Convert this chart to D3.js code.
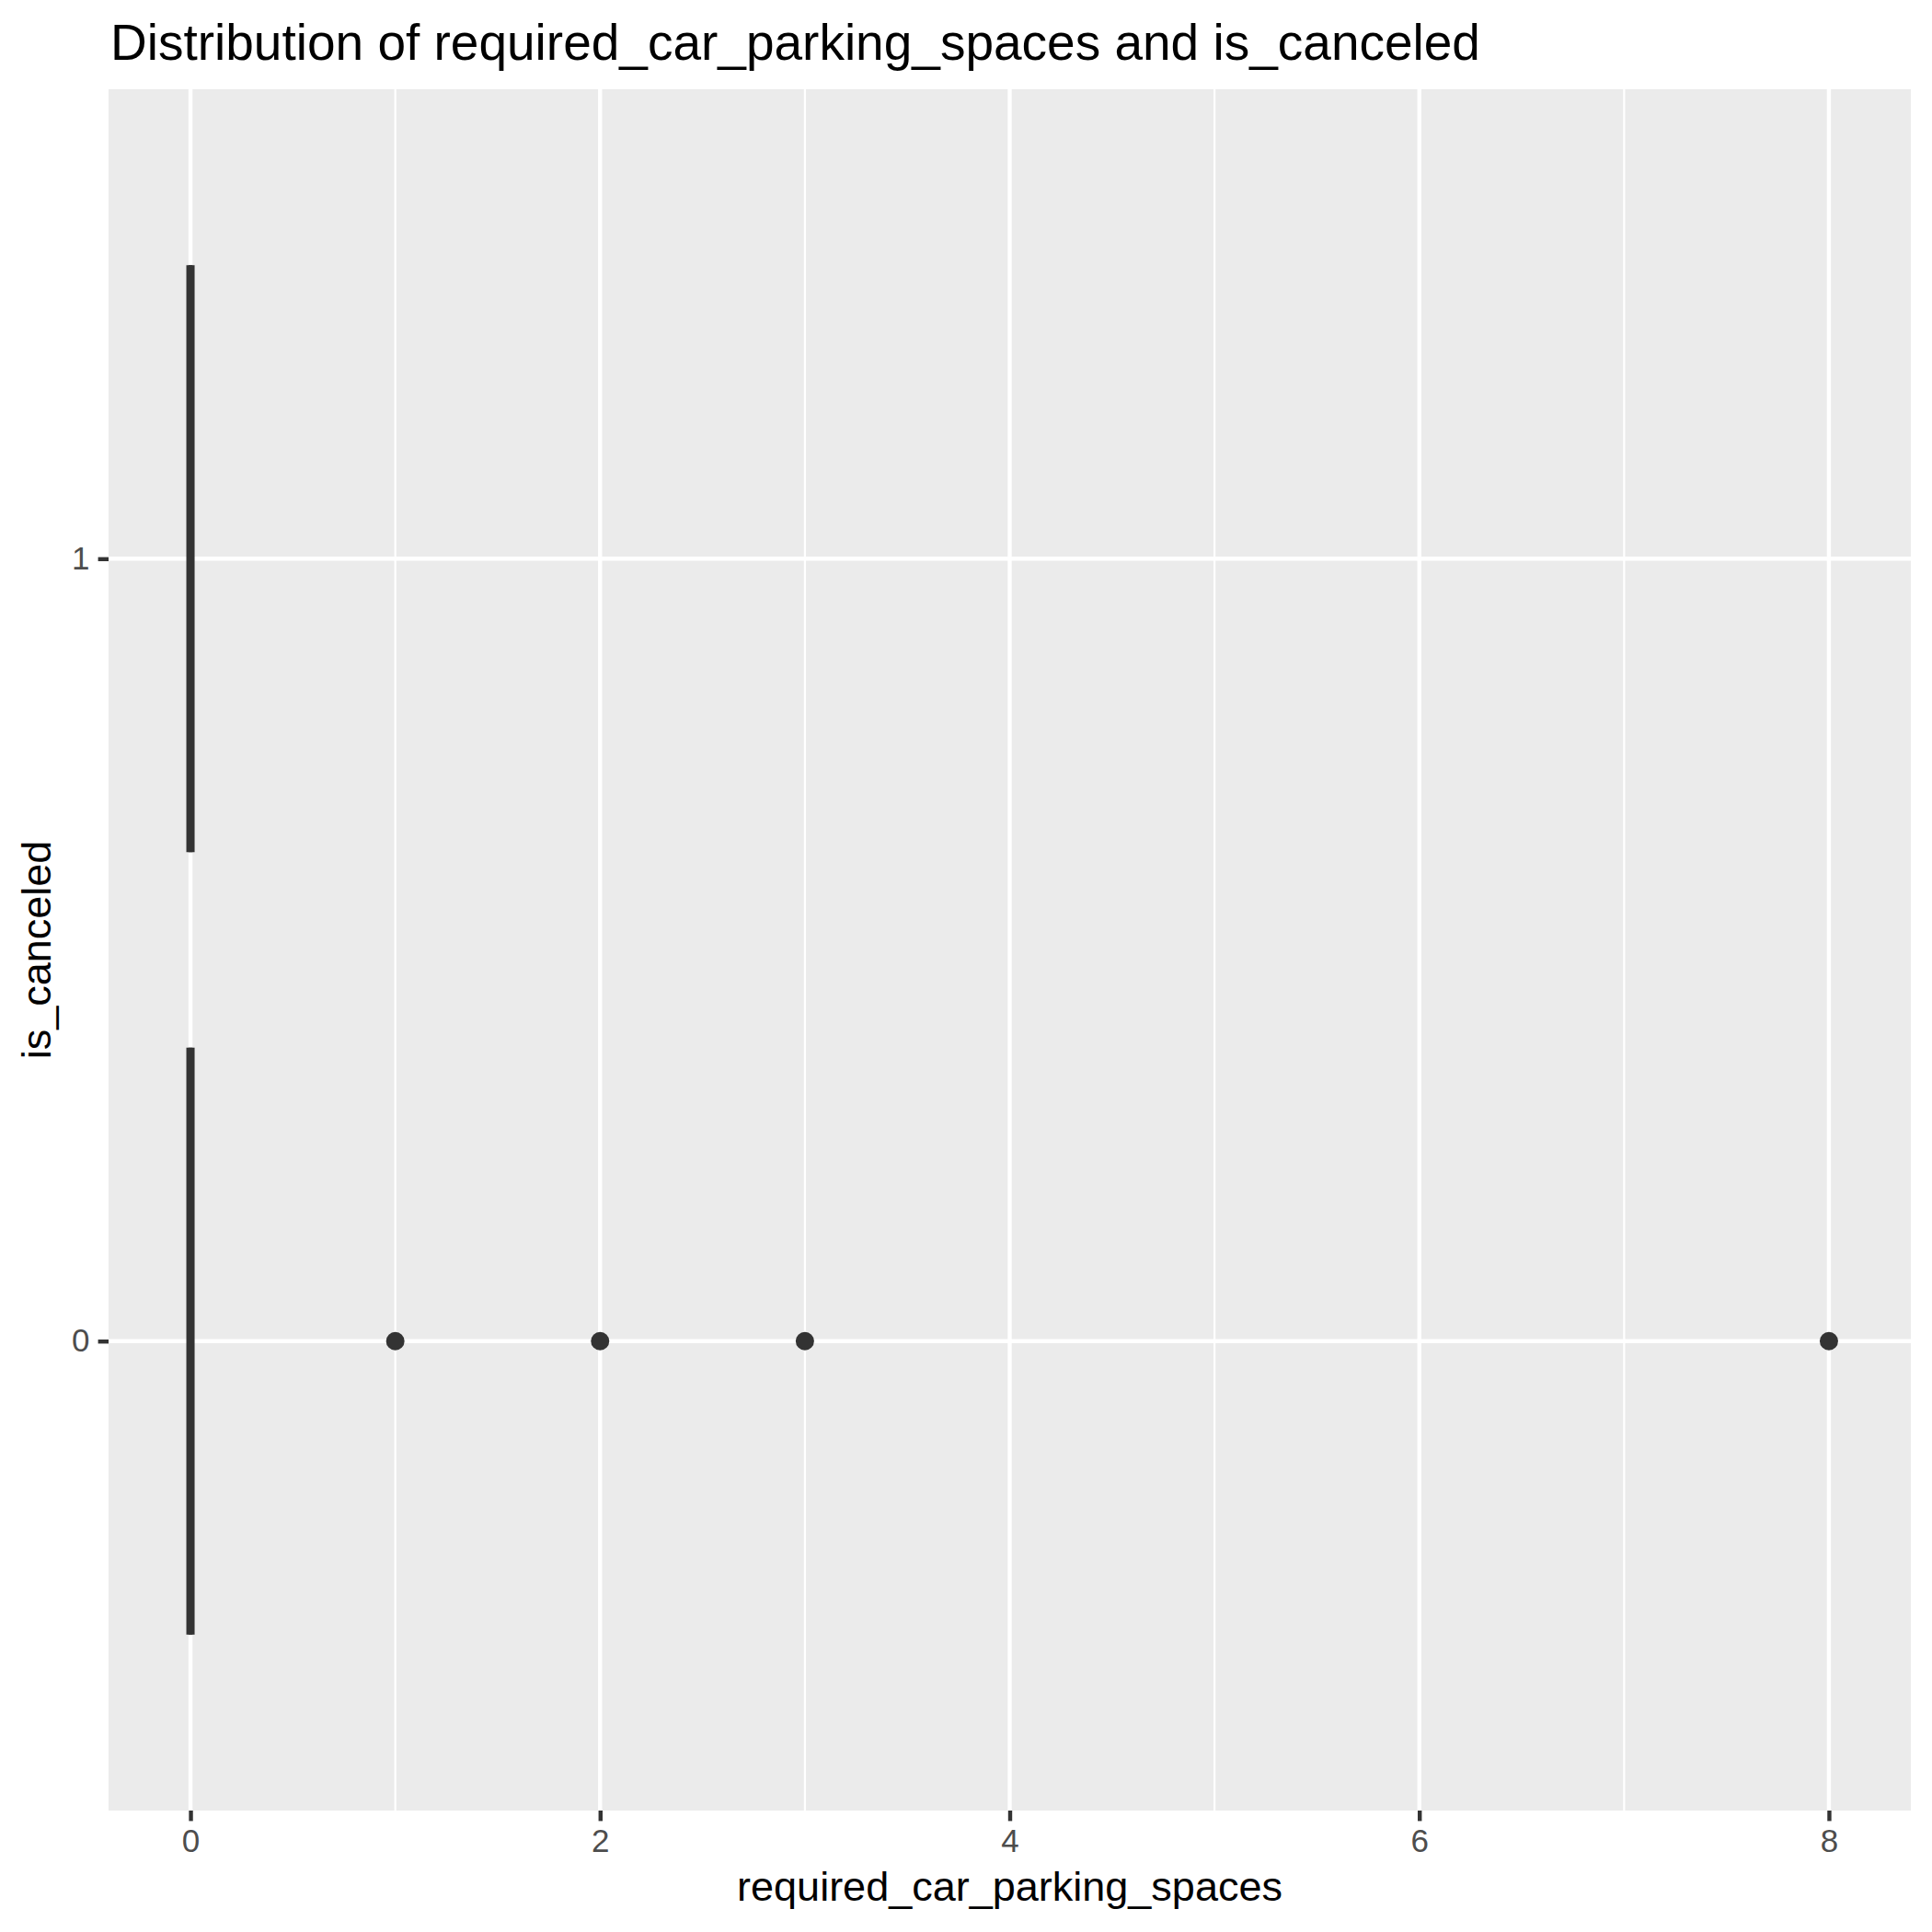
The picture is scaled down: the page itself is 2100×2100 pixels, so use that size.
<!DOCTYPE html>
<html>
<head>
<meta charset="utf-8">
<script src="https://cdn.jsdelivr.net/npm/d3@7"></script>
<style>
  html, body { margin: 0; padding: 0; background: #ffffff; }
  svg { display: block; }
</style>
</head>
<body>
<div id="chart"></div>
<script>
// ---- data ----
const categories = ["0", "1"];              // is_canceled
const q1Values = [0, 0];
const medianValues = [0, 0];
const q3Values = [0, 0];
const whiskerLowValues = [0, 0];
const whiskerHighValues = [0, 0];
const outliersCat0 = [1, 2, 3, 8];
const outliersCat1 = [];
const xMajorTicks = [0, 2, 4, 6, 8];
const xMinorTicks = [1, 3, 5, 7];
const xDomain = [-0.4, 8.4];

const titleText = "Distribution of required_car_parking_spaces and is_canceled";
const xTitle = "required_car_parking_spaces";
const yTitle = "is_canceled";

// ---- layout ----
const W = 2100, H = 2100;
const panel = { left: 118, right: 2077, top: 97, bottom: 1968 };
const FONT = "'Liberation Sans', Arial, Helvetica, sans-serif";

const svg = d3.select("#chart").append("svg")
  .attr("width", W).attr("height", H)
  .attr("viewBox", `0 0 ${W} ${H}`);

svg.append("rect").attr("width", W).attr("height", H).attr("fill", "#ffffff");

const x = d3.scaleLinear().domain(xDomain).range([panel.left, panel.right]);
const y = d3.scalePoint().domain(categories.slice().reverse())
  .range([panel.top, panel.bottom]).padding(0.6);
const boxHalf = y.step() * 0.375;

// panel background
svg.append("rect")
  .attr("x", panel.left).attr("y", panel.top)
  .attr("width", panel.right - panel.left)
  .attr("height", panel.bottom - panel.top)
  .attr("fill", "#EBEBEB");

const grid = svg.append("g");
// minor grid
grid.selectAll("line.minor").data(xMinorTicks).join("line")
  .attr("x1", d => x(d)).attr("x2", d => x(d))
  .attr("y1", panel.top).attr("y2", panel.bottom)
  .attr("stroke", "#ffffff").attr("stroke-width", 2.2);
// major grid x
grid.selectAll("line.majx").data(xMajorTicks).join("line")
  .attr("x1", d => x(d)).attr("x2", d => x(d))
  .attr("y1", panel.top).attr("y2", panel.bottom)
  .attr("stroke", "#ffffff").attr("stroke-width", 4.4);
// major grid y
grid.selectAll("line.majy").data(categories).join("line")
  .attr("x1", panel.left).attr("x2", panel.right)
  .attr("y1", d => y(d)).attr("y2", d => y(d))
  .attr("stroke", "#ffffff").attr("stroke-width", 4.4);

// ---- boxplots ----
const boxes = categories.map((c, i) => ({
  cat: c, q1: q1Values[i], med: medianValues[i], q3: q3Values[i],
  lo: whiskerLowValues[i], hi: whiskerHighValues[i],
  out: i === 0 ? outliersCat0 : outliersCat1
}));

const bg = svg.append("g");
boxes.forEach(b => {
  const cy = y(b.cat);
  const g = bg.append("g");
  // whiskers
  g.append("line").attr("x1", x(b.lo)).attr("x2", x(b.q1))
    .attr("y1", cy).attr("y2", cy)
    .attr("stroke", "#333333").attr("stroke-width", 4.4);
  g.append("line").attr("x1", x(b.q3)).attr("x2", x(b.hi))
    .attr("y1", cy).attr("y2", cy)
    .attr("stroke", "#333333").attr("stroke-width", 4.4);
  // box outline (drawn as path so zero width still renders)
  const p = d3.path();
  p.moveTo(x(b.q1), cy - boxHalf);
  p.lineTo(x(b.q3), cy - boxHalf);
  p.lineTo(x(b.q3), cy + boxHalf);
  p.lineTo(x(b.q1), cy + boxHalf);
  p.closePath();
  g.append("path").attr("d", p.toString())
    .attr("fill", "#ffffff").attr("stroke", "#333333")
    .attr("stroke-width", 4.4);
  // median
  g.append("line").attr("x1", x(b.med)).attr("x2", x(b.med))
    .attr("y1", cy - boxHalf).attr("y2", cy + boxHalf)
    .attr("stroke", "#333333").attr("stroke-width", 9);
  // outliers
  g.selectAll("circle").data(b.out).join("circle")
    .attr("cx", d => x(d)).attr("cy", cy).attr("r", 10)
    .attr("fill", "#333333");
});

// ---- axes ----
const xAxis = d3.axisBottom(x).tickValues(xMajorTicks)
  .tickSize(11.4).tickPadding(9.2).tickFormat(d3.format("d"));
const gx = svg.append("g").attr("transform", `translate(0,${panel.bottom})`).call(xAxis);
gx.select(".domain").remove();
gx.selectAll(".tick line").attr("stroke", "#333333").attr("stroke-width", 4.4);
gx.selectAll(".tick text").attr("fill", "#4D4D4D")
  .style("font-family", FONT).style("font-size", "35px");

const yAxis = d3.axisLeft(y).tickSize(11.4).tickPadding(9.2);
const gy = svg.append("g").attr("transform", `translate(${panel.left},0)`).call(yAxis);
gy.select(".domain").remove();
gy.selectAll(".tick line").attr("stroke", "#333333").attr("stroke-width", 4.4);
gy.selectAll(".tick text").attr("fill", "#4D4D4D")
  .style("font-family", FONT).style("font-size", "35px");

// ---- titles ----
svg.append("text")
  .attr("x", 120).attr("y", 65)
  .attr("fill", "#000000")
  .style("font-family", FONT).style("font-size", "55px")
  .text(titleText);

svg.append("text")
  .attr("x", (panel.left + panel.right) / 2).attr("y", 2066)
  .attr("text-anchor", "middle").attr("fill", "#000000")
  .style("font-family", FONT).style("font-size", "45px")
  .text(xTitle);

svg.append("text")
  .attr("transform", `translate(55,${(panel.top + panel.bottom) / 2}) rotate(-90)`)
  .attr("text-anchor", "middle").attr("fill", "#000000")
  .style("font-family", FONT).style("font-size", "45px")
  .text(yTitle);
</script>
</body>
</html>
